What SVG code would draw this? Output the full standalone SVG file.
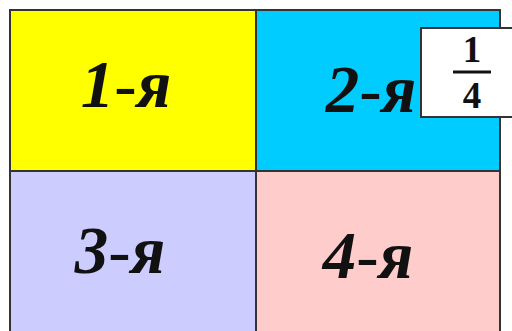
<svg xmlns="http://www.w3.org/2000/svg" width="512" height="331" viewBox="0 0 512 331">
<style>
.cell{stroke:#333;stroke-width:2}
.lbl{font-family:"Liberation Serif","DejaVu Serif",serif;font-style:italic;font-weight:bold;font-size:67px;fill:#111;text-anchor:middle}
.h{font-weight:normal;font-style:normal}
.frac{font-family:"Liberation Serif","DejaVu Serif",serif;font-weight:bold;font-size:37px;fill:#111;text-anchor:middle}
</style>
<rect width="512" height="331" fill="#fff"/>
<g id="q1"><rect class="cell" x="10" y="10" width="246" height="161" fill="#ffff00"/><text class="lbl" x="126" y="107">1<tspan class="h">-</tspan>я</text></g>
<g id="q2"><rect class="cell" x="256" y="10" width="244" height="161" fill="#00ccff"/><text class="lbl" x="371" y="112">2<tspan class="h">-</tspan>я</text></g>
<g id="q3"><rect class="cell" x="10" y="171" width="246" height="170" fill="#ccccff"/><text class="lbl" x="120" y="273">3<tspan class="h">-</tspan>я</text></g>
<g id="q4"><rect class="cell" x="256" y="171" width="244" height="170" fill="#ffcccc"/><text class="lbl" x="368" y="278">4<tspan class="h">-</tspan>я</text></g>
<g id="fraction">
<rect x="421" y="28" width="100" height="89" fill="#fff" stroke="#333" stroke-width="2"/>
<text class="frac" x="472" y="62">1</text>
<line x1="453" y1="72" x2="491" y2="72" stroke="#111" stroke-width="3"/>
<text class="frac" x="472" y="108">4</text>
</g>
<g id="connectors"/>
</svg>
